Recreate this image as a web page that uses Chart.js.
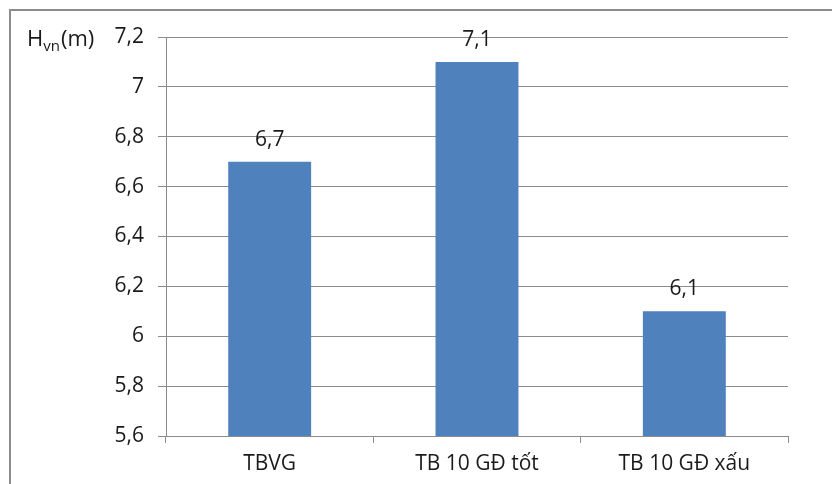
<!DOCTYPE html>
<html>
<head>
<meta charset="utf-8">
<script src="https://cdn.jsdelivr.net/npm/chart.js@4"></script>
<style>
  body { margin: 0; background: #fff; }
  canvas { display: block; }
</style>
</head>
<body>
<canvas id="chart" width="832" height="484"></canvas>
<script>
// data
const categories = ['TBVG', 'TB 10 GĐ tốt', 'TB 10 GĐ xấu'];
const heights = [6.7, 7.1, 6.1];
const heightLabels = ['6,7', '7,1', '6,1'];
const yTickLabels = ['5,6', '5,8', '6', '6,2', '6,4', '6,6', '6,8', '7', '7,2'];

const FONT = '"Open Sans", sans-serif';
const GREY = '#8c8c8c';
const TEXT = '#1a1a1a';

// khung, nhãn trục và nhãn giá trị
const extras = {
    id: 'extras',
    beforeDraw(chart) {
        const ctx = chart.ctx;
        ctx.save();
        ctx.strokeStyle = GREY;
        ctx.lineWidth = 2;
        ctx.beginPath();
        ctx.moveTo(832, 10);
        ctx.lineTo(10, 10);
        ctx.lineTo(10, 484);
        ctx.stroke();
        ctx.restore();
    },
    afterDatasetsDraw(chart) {
        const ctx = chart.ctx;
        ctx.save();
        ctx.fillStyle = TEXT;
        ctx.textAlign = 'center';
        ctx.textBaseline = 'alphabetic';
        ctx.font = '21px ' + FONT;
        chart.getDatasetMeta(0).data.forEach((bar, i) => {
            ctx.fillText(heightLabels[i], bar.x, bar.y - 16);
        });

        // H_vn(m)
        ctx.textAlign = 'left';
        let x = 27;
        ctx.font = '22px ' + FONT;
        ctx.fillText('H', x, 46);
        x += ctx.measureText('H').width;
        ctx.font = '15px ' + FONT;
        ctx.fillText('vn', x, 51);
        x += ctx.measureText('vn').width + 1;
        ctx.font = '22px ' + FONT;
        ctx.fillText('(m)', x, 46);
        ctx.restore();
    }
};

new Chart(document.getElementById('chart'), {
    type: 'bar',
    data: {
        labels: categories,
        datasets: [{
            data: heights,
            backgroundColor: '#4f81bd',
            barPercentage: 0.4,
            categoryPercentage: 1
        }]
    },
    options: {
        responsive: false,
        animation: false,
        layout: { padding: { top: 37, right: 44, left: 0, bottom: 0 } },
        plugins: { legend: { display: false }, tooltip: { enabled: false } },
        scales: {
            y: {
                min: 5.6,
                max: 7.2,
                ticks: {
                    stepSize: 0.2,
                    padding: 14,
                    color: TEXT,
                    font: { family: FONT, size: 21 },
                    callback: (v, i) => yTickLabels[i]
                },
                grid: { color: GREY, tickLength: 8 },
                border: { color: GREY },
                afterFit: s => { s.width = 166; }
            },
            x: {
                ticks: {
                    padding: 8,
                    color: TEXT,
                    font: { family: FONT, size: 21 }
                },
                grid: { drawOnChartArea: false, color: GREY, tickLength: 7 },
                border: { color: GREY },
                afterFit: s => { s.height = 48; }
            }
        }
    },
    plugins: [extras]
});
</script>
</body>
</html>
